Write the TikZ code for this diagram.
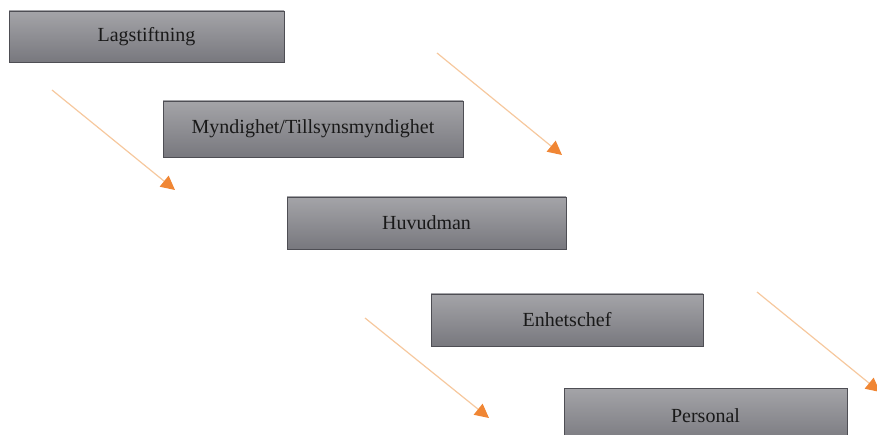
\documentclass[tikz,border=0pt]{standalone}
\usepackage{fontspec}
\setmainfont{Liberation Serif}
\usetikzlibrary{arrows.meta}

\definecolor{boxtop}{RGB}{164,164,168}
\definecolor{boxbot}{RGB}{120,120,126}
\definecolor{boxline}{RGB}{78,78,84}
\definecolor{pilline}{RGB}{246,200,158}
\definecolor{piltip}{RGB}{240,134,52}

\begin{document}
\begin{tikzpicture}[x=1pt, y=-1pt,
    niva/.style={rectangle, draw=boxline, line width=0.8pt, top color=boxtop, bottom color=boxbot,
        inner sep=0pt, text=black!90, font=\fontsize{20}{24}\selectfont},
    pil/.style={draw=pilline, line width=1.2pt, -{Triangle[length=14pt, width=14pt, color=piltip]}}]
\useasboundingbox (0,0) rectangle (877,435);

% Levels
\node (lag) [niva, minimum width=275pt, minimum height=51pt] at (146.5,36.5) {Lagstiftning};
\node (myndighet) [niva, minimum width=300pt, minimum height=56pt] at (313,129) {Myndighet/Tillsynsmyndighet};
\node (huvudman) [niva, minimum width=279pt, minimum height=52pt] at (426.5,223) {Huvudman};
\node (chef) [niva, minimum width=272pt, minimum height=52pt] at (567,320) {Enhetschef};
\node (personal) [niva, minimum width=283pt, minimum height=56pt] at (705.5,416) {Personal};

% Arrow end points
\coordinate (p1a) at (52,90);
\coordinate (p1b) at (175,190);
\coordinate (p2a) at (437,53);
\coordinate (p2b) at (562,155);
\coordinate (p3a) at (365,318);
\coordinate (p3b) at (489,418);
\coordinate (p4a) at (757,292);
\coordinate (p4b) at (880,392);

\draw [pil] (p1a) -- (p1b);
\draw [pil] (p2a) -- (p2b);
\draw [pil] (p3a) -- (p3b);
\draw [pil] (p4a) -- (p4b);
\end{tikzpicture}
\end{document}
